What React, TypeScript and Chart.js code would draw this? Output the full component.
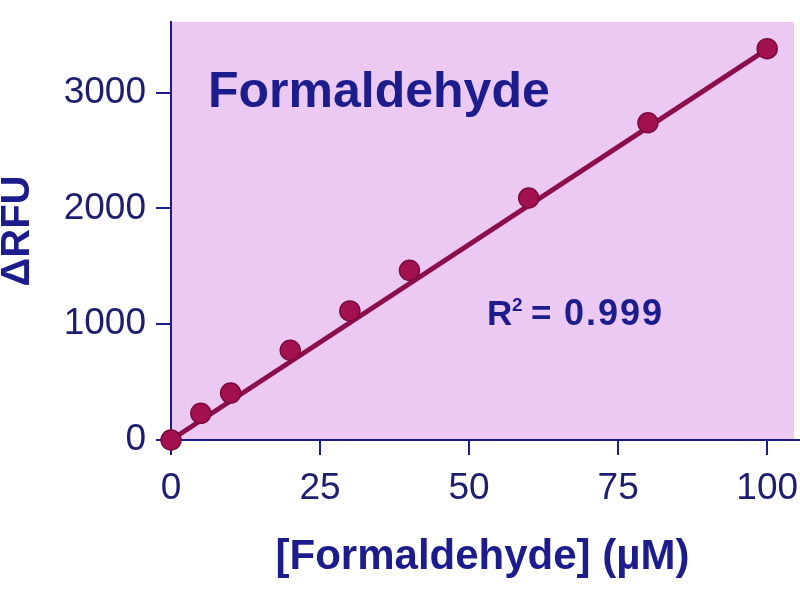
import React, { useEffect, useRef } from "react";
import { Chart, registerables } from "chart.js";

Chart.register(...registerables);

// ---- data ----
const concentrations = [0, 5, 10, 20, 30, 40, 60, 80, 100]; // µM
const deltaRFU = [0, 230, 405, 775, 1115, 1465, 2090, 2740, 3380];
const fitX = [0, 100];
const fitY = [0, 3375];
const xTicks = [0, 25, 50, 75, 100];
const yTicks = [0, 1000, 2000, 3000];
const chartTitle = "Formaldehyde";
const xTitle = "[Formaldehyde] (\u00B5M)";
const yTitle = "\u0394RFU";
const r2Label = "0.999";

const NAVY = "#1c1c8c";
const TICK_NAVY = "#1e1e70";
const BG = "#ebc9f3";
const LINE = "#8c0f4c";
const DOT = "#a3104f";
const DOT_EDGE = "#7a0a3e";
const FONT = "'Liberation Sans', Arial, Helvetica, sans-serif";
const PLOT_RIGHT = 794;

const decorPlugin = {
  id: "decor",
  afterLayout(chart: any) {
    // keep the plot area's right edge where the reference has it
    const area = chart.chartArea;
    if (area.right !== PLOT_RIGHT) {
      area.right = PLOT_RIGHT;
      area.width = PLOT_RIGHT - area.left;
      const xs = chart.scales.x;
      xs.right = PLOT_RIGHT;
      xs.width = PLOT_RIGHT - xs.left;
      xs.configure();
    }
  },
  beforeDraw(chart: any) {
    const { ctx, chartArea } = chart;
    ctx.save();
    ctx.fillStyle = BG;
    ctx.fillRect(chartArea.left, chartArea.top, chartArea.right - chartArea.left, chartArea.bottom - chartArea.top);
    ctx.restore();
  },
  afterDraw(chart: any) {
    const { ctx, chartArea } = chart;
    ctx.save();
    // x axis line continues to the canvas edge like the reference
    ctx.strokeStyle = NAVY;
    ctx.lineWidth = 2;
    ctx.beginPath();
    ctx.moveTo(chartArea.right - 1, chartArea.bottom);
    ctx.lineTo(chart.width, chartArea.bottom);
    ctx.stroke();

    // title inside plot
    ctx.fillStyle = NAVY;
    ctx.textBaseline = "alphabetic";
    ctx.textAlign = "left";
    ctx.font = `bold 50px ${FONT}`;
    ctx.fillText(chartTitle, chartArea.left + 37, 107);

    // R² label
    const base = 325;
    ctx.font = `bold 35px ${FONT}`;
    ctx.fillText("R", 487, base);
    ctx.font = `bold 19px ${FONT}`;
    ctx.fillText("2", 512, base - 14);
    ctx.font = `bold 35px ${FONT}`;
    ctx.fillText("=", 531, base);
    ctx.font = `bold 36px ${FONT}`;
    (ctx as any).letterSpacing = "2px";
    ctx.fillText(r2Label, 564, base);
    (ctx as any).letterSpacing = "0px";
    ctx.restore();
  },
};

export default function App() {
  const ref = useRef<HTMLCanvasElement | null>(null);

  useEffect(() => {
    if (!ref.current) return;
    const chart = new Chart(ref.current, {
      type: "scatter",
      data: {
        datasets: [
          {
            label: "Data",
            data: concentrations.map((c, i) => ({ x: c, y: deltaRFU[i] })),
            showLine: false,
            pointRadius: 10,
            pointHoverRadius: 10,
            pointBackgroundColor: DOT,
            pointBorderColor: DOT_EDGE,
            pointBorderWidth: 1.5,
            clip: false as any,
            order: 0,
          },
          {
            label: "Fit",
            data: fitX.map((v, i) => ({ x: v, y: fitY[i] })),
            showLine: true,
            borderColor: LINE,
            borderWidth: 5,
            pointRadius: 0,
            clip: false as any,
            order: 1,
          },
        ],
      },
      options: {
        animation: false,
        responsive: false,
        maintainAspectRatio: false,
        layout: { padding: { top: 22, right: 6, left: 0, bottom: 0 } },
        plugins: {
          legend: { display: false },
          tooltip: { enabled: false },
          title: { display: false },
        },
        scales: {
          x: {
            type: "linear",
            min: 0,
            max: 104.5,
            afterBuildTicks: (s: any) => {
              s.ticks = xTicks.map((v) => ({ value: v }));
            },
            afterFit: (s: any) => {
              s.height = 160;
              s.paddingLeft = 0;
              s.paddingRight = 0;
            },
            grid: {
              drawOnChartArea: false,
              drawTicks: true,
              tickLength: 15,
              color: NAVY,
              lineWidth: 2,
            },
            border: { display: true, color: NAVY, width: 2 },
            ticks: {
              color: TICK_NAVY,
              font: { family: FONT, size: 37 },
              padding: 12,
              maxRotation: 0,
              autoSkip: false,
              callback: (v: any) => String(v),
            },
            title: {
              display: true,
              text: xTitle,
              color: NAVY,
              font: { family: FONT, size: 42, weight: "bold", lineHeight: 1 },
              padding: { top: 0, bottom: 22 },
            },
          },
          y: {
            type: "linear",
            min: 0,
            max: 3610,
            afterBuildTicks: (s: any) => {
              s.ticks = yTicks.map((v) => ({ value: v }));
            },
            afterFit: (s: any) => {
              s.width = 171;
              s.paddingTop = 0;
              s.paddingBottom = 0;
            },
            grid: {
              drawOnChartArea: false,
              drawTicks: true,
              tickLength: 15,
              color: NAVY,
              lineWidth: 2,
            },
            border: { display: true, color: NAVY, width: 2 },
            ticks: {
              color: TICK_NAVY,
              font: { family: FONT, size: 37 },
              padding: 10,
              autoSkip: false,
              callback: (v: any) => String(v),
            },
            title: {
              display: true,
              text: yTitle,
              color: NAVY,
              font: { family: FONT, size: 40, weight: "bold", lineHeight: 0.9 },
              padding: { top: 0, bottom: 0 },
            },
          },
        },
      },
      plugins: [decorPlugin],
    });
    return () => chart.destroy();
  }, []);

  return (
    <div style={{ position: "absolute", left: 0, top: 0, width: 800, height: 600, background: "#ffffff" }}>
      <canvas ref={ref} width={800} height={600} style={{ display: "block", width: 800, height: 600 }} />
    </div>
  );
}
